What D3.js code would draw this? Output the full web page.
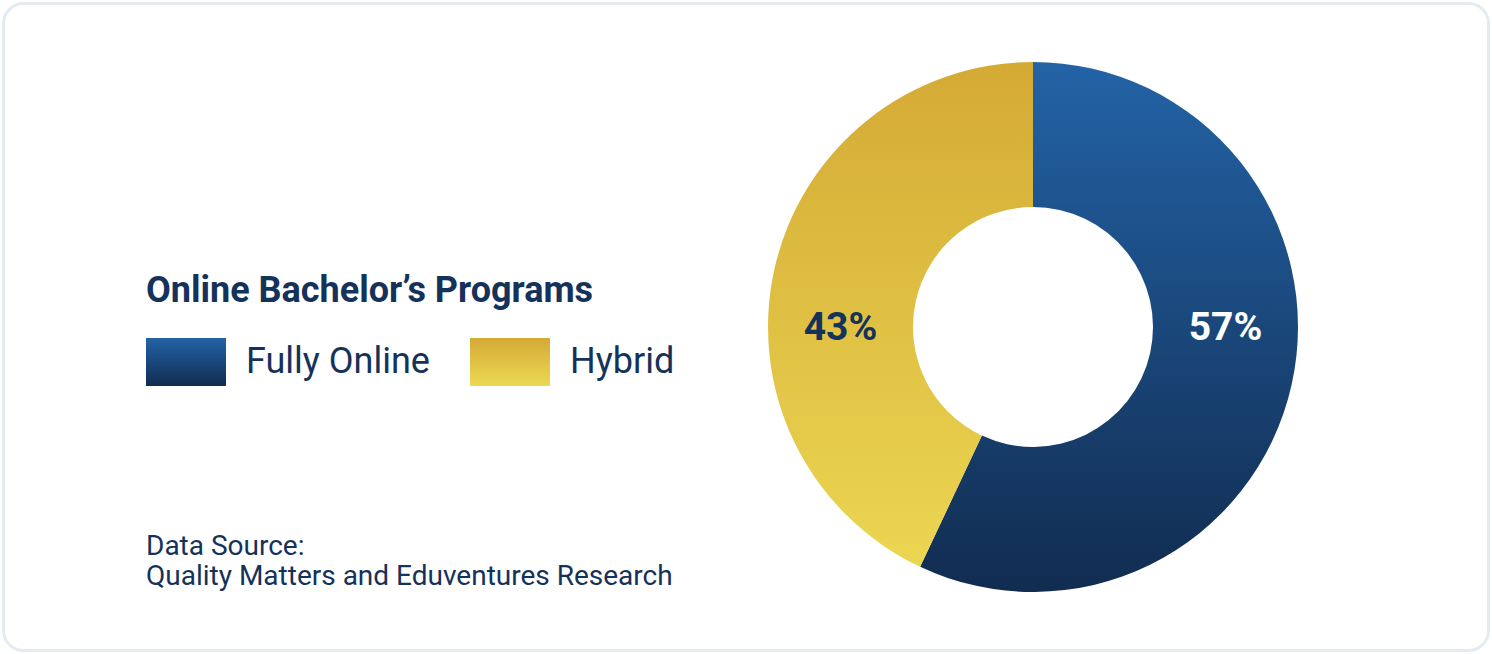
<!DOCTYPE html>
<html><head><meta charset="utf-8">
<script src="https://cdn.jsdelivr.net/npm/d3@7"></script>
<style>html,body{margin:0;padding:0;background:#fff;overflow:hidden}</style>
</head><body><svg id="c" width="1492" height="654"></svg>
<script>
const categories = ["Fully Online", "Hybrid"];
const values = [57, 43];
const labels = ["57%", "43%"];
const title = "Online Bachelor’s Programs";
const sourceLines = ["Data Source:", "Quality Matters and Eduventures Research"];

const svg = d3.select("#c");
const font = "Roboto, 'Noto Sans', sans-serif";
const textColor = "#15325a";
svg.append("rect").attr("x",3.5).attr("y",3.5).attr("width",1485).attr("height",647)
  .attr("rx",20).attr("fill","#fff").attr("stroke","#e3ebf3").attr("stroke-width",3);

const cx = 1033, cy = 327, R = 265, r0 = 120;
const defs = svg.append("defs");
const grads = [["#2363a6","#112c50"],["#d4aa35","#ecd853"]];
grads.forEach((g,i)=>{
  const lg = defs.append("linearGradient").attr("id","g"+i)
    .attr("gradientUnits","userSpaceOnUse").attr("x1",0).attr("x2",0).attr("y1",-R).attr("y2",R);
  lg.append("stop").attr("offset","0").attr("stop-color",g[0]);
  lg.append("stop").attr("offset","1").attr("stop-color",g[1]);
  const lg2 = defs.append("linearGradient").attr("id","s"+i).attr("x1",0).attr("x2",0).attr("y1",0).attr("y2",1);
  lg2.append("stop").attr("offset","0").attr("stop-color",g[0]);
  lg2.append("stop").attr("offset","1").attr("stop-color",g[1]);
});

const pie = d3.pie().sort(null).value(d=>d);
const arc = d3.arc().innerRadius(r0).outerRadius(R);
const arcs = pie(values);
const g = svg.append("g").attr("transform",`translate(${cx},${cy})`);
g.selectAll("path").data(arcs).join("path").attr("d",arc).attr("fill",(d,i)=>`url(#g${i})`);

const midR = (r0+R)/2;
g.selectAll("text.lbl").data(arcs).join("text").attr("class","lbl")
  .attr("x",(d)=> (d.startAngle+d.endAngle)/2 < Math.PI ? midR : -midR)
  .attr("y",13).attr("text-anchor","middle")
  .attr("font-family",font).attr("font-weight",700).attr("font-size",39)
  .attr("fill",(d,i)=> i===0 ? "#ffffff" : textColor)
  .text((d,i)=>labels[i]);

svg.append("text").attr("x",146).attr("y",302).attr("font-family",font).attr("font-weight",700)
  .attr("font-size",36).attr("fill",textColor).text(title);

const legX = [146, 470];
categories.forEach((c,i)=>{
  svg.append("rect").attr("x",legX[i]).attr("y",338).attr("width",80).attr("height",48).attr("fill",`url(#s${i})`);
  svg.append("text").attr("x",legX[i]+100).attr("y",373).attr("font-family",font).attr("font-size",36)
    .attr("fill",textColor).text(c);
});

sourceLines.forEach((t,i)=>{
  svg.append("text").attr("x",146).attr("y",555+i*30).attr("font-family",font).attr("font-size",28)
    .attr("fill",textColor).text(t);
});
</script></body></html>
